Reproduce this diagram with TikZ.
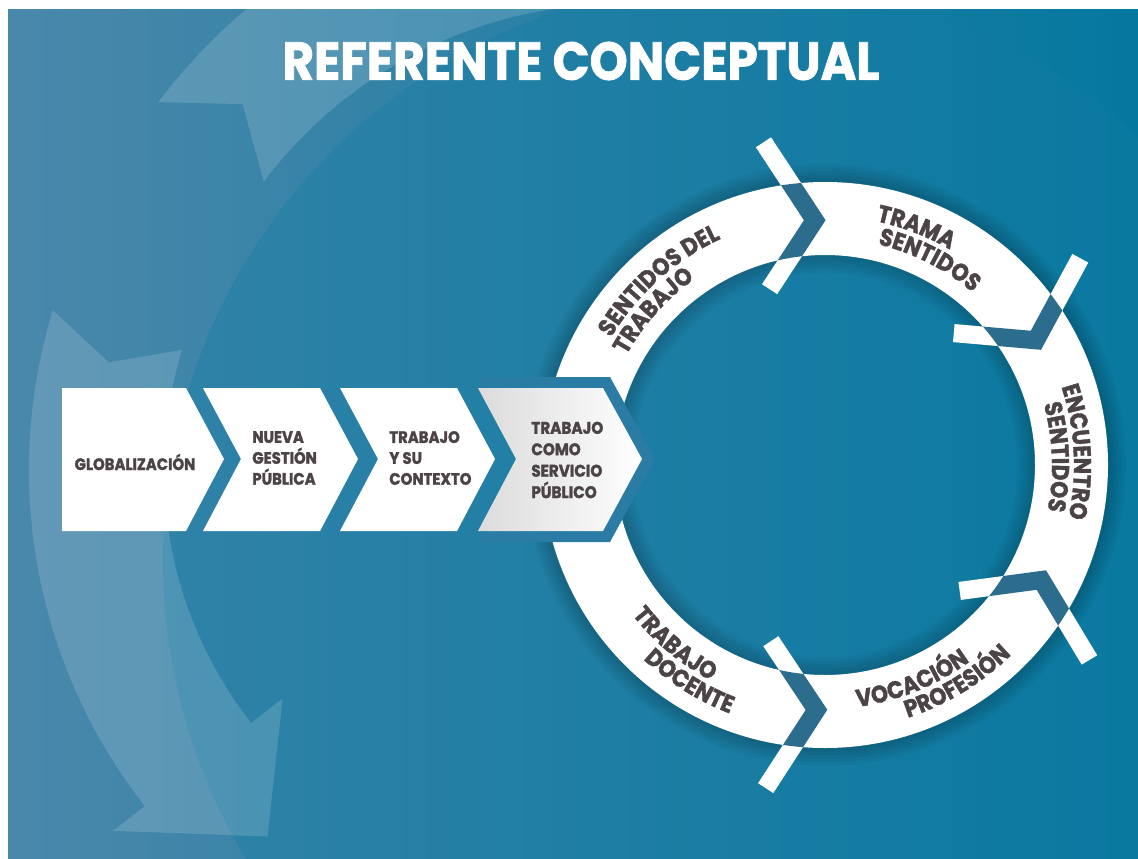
\documentclass[tikz,border=0pt]{standalone}
\usepackage{fontspec}
\usepackage{graphicx}
\setmainfont{Poppins}
\newfontfamily\dispfont{Poppins}[FakeStretch=0.9, BoldFeatures={FakeBold=1.6}]
\newfontfamily\ttlfont{Poppins}[FakeStretch=0.88, BoldFeatures={FakeBold=1.5}]
\usetikzlibrary{calc,decorations.text}
\definecolor{bgl}{HTML}{4A88AB}
\definecolor{bgr}{HTML}{05789F}
\definecolor{dcl}{HTML}{3082A7}
\definecolor{dcr}{HTML}{02779F}
\definecolor{txt}{HTML}{4B4345}
\definecolor{gapc}{HTML}{2C6C8D}
\definecolor{bord}{HTML}{2A7CA4}
\newdimen\pxu \pxu=0.02cm
\newcommand\rfont{\dispfont\bfseries\fontsize{13.8pt}{15pt}\selectfont\color{txt}}
\newcommand\bfnt{\dispfont\bfseries\fontsize{9.4pt}{11.9pt}\selectfont}
\begin{document}
\begin{tikzpicture}[x=0.02cm,y=-0.02cm,
  boxtext/.style={font=\bfnt, text=txt, align=left, inner sep=0pt},
  ghost/.style={fill=white, fill opacity=0.15},
  ringtxt/.style={decorate, decoration={text along path, text align=center, text={|\rfont|#1}}}]
\useasboundingbox (0,0) rectangle (1138,858);
\fill[white] (0,0) rectangle (1138,858);
\coordinate (C) at (825,465);
\coordinate (T) at (575,470);
\coordinate (TA) at (620,450);
% ---------- background ----------
\begin{scope}
  \clip (8,10) rectangle (1138,858);
  \shade[left color=bgl, right color=bgr] (8,10) rectangle (1138,858);
  \shade[left color=dcl, right color=dcr] (742,560) circle (579);
  % translucent circular arrows
  \fill[ghost] ($(TA)+(217:578)$) arc[start angle=217, end angle=272, radius=578]
     -- ($(TA)+(272:446)$) arc[start angle=272, end angle=217, radius=446]
     -- ($(TA)+(222.5:512)$) -- cycle;
  \fill[ghost] ($(T)+(197:546)$) arc[start angle=197, end angle=142, radius=546]
     -- ($(T)+(142:586)$) -- ($(T)+(130:478.5)$) -- ($(T)+(142:371)$)
     -- ($(T)+(142:411)$) arc[start angle=142, end angle=197, radius=411]
     -- ($(T)+(193:478.5)$) -- cycle;
  % soft shadow of the ring
  \foreach \w in {4,8,12,16,20} {
    \draw[black, opacity=0.04, line width=\w pt] (C) circle (283);
    \draw[black, opacity=0.035, line width=\w pt] (C) circle (210);
  }
\end{scope}
% ---------- ring ----------
\fill[white, even odd rule] (C) circle (283) (C) circle (210);
\foreach \a/\t [count=\i] in {267.6/357.6, 329.4/419.4, 28/-62, 92/2} {
  \coordinate (dv\i) at ($(C)+(\a:245)$);
  \coordinate (da\i) at ($(dv\i)+(\a:80)+(\t:-48)$);
  \coordinate (db\i) at ($(dv\i)+(\a:-67)+(\t:-48)$);
  \draw[white, line width=10.3pt] (da\i) -- (dv\i) -- (db\i);
}
\begin{scope}
  \clip ($(C)+(0:283)$) arc[start angle=0, end angle=360, radius=283]
     -- ($(C)+(0:210)$) arc[start angle=360, end angle=0, radius=210] -- cycle;
  \foreach \i in {1,...,4}
    \draw[gapc, line width=10.3pt] (da\i) -- (dv\i) -- (db\i);
\end{scope}
% ring texts
\path[ringtxt={SENTIDOS DEL}] ($(C)+(188:249)$) arc[start angle=188, end angle=268, radius=249];
\path[ringtxt={TRABAJO}] ($(C)+(182:227)$) arc[start angle=182, end angle=262, radius=227];
\path[ringtxt={TRAMA}] ($(C)+(251:249)$) arc[start angle=251, end angle=331, radius=249];
\path[ringtxt={SENTIDOS}] ($(C)+(257:227)$) arc[start angle=257, end angle=337, radius=227];
\path[ringtxt={ENCUENTRO}] ($(C)+(317:249)$) arc[start angle=317, end angle=397, radius=249];
\path[ringtxt={SENTIDOS}] ($(C)+(318:227)$) arc[start angle=318, end angle=398, radius=227];
\path[ringtxt={VOCACIÓN}] ($(C)+(108:244)$) arc[start angle=108, end angle=28, radius=244];
\path[ringtxt={PROFESIÓN}] ($(C)+(98.7:266)$) arc[start angle=98.7, end angle=18.7, radius=266];
\path[ringtxt={TRABAJO}] ($(C)+(170:244)$) arc[start angle=170, end angle=90, radius=244];
\path[ringtxt={DOCENTE}] ($(C)+(162:266)$) arc[start angle=162, end angle=82, radius=266];
% ---------- chevron boxes ----------
\fill[white] (62,388) -- (186,388) -- (224,459) -- (186,531) -- (62,531) -- cycle;
\fill[white] (203,388) -- (320,388) -- (358,459) -- (320,531) -- (203,531) -- (241,459) -- cycle;
\fill[white] (340,388) -- (457,388) -- (495,459) -- (457,531) -- (340,531) -- (378,459) -- cycle;
\fill[bord] (478,377) -- (610,377) -- (655,459) -- (610,542) -- (478,542) -- (516,459) -- cycle;
\shade[left color=black!14, right color=white] (478,388) -- (603,388) -- (642,459) -- (603,531) -- (478,531) -- (516,459) -- cycle;
\node[boxtext] (b1) at (135,462) {GLOBALIZACIÓN};
\node[boxtext, anchor=west] (b2) at (252,458) {NUEVA\\GESTIÓN\\PÚBLICA};
\node[boxtext, anchor=west] (b3) at (389,458) {TRABAJO\\Y SU\\CONTEXTO};
\node[boxtext, anchor=west, font=\dispfont\bfseries\fontsize{9.6pt}{12.2pt}\selectfont] (b4) at (531,460) {TRABAJO\\COMO\\SERVICIO\\PÚBLICO};
% ---------- title ----------
\node[font=\ttlfont\bfseries, text=white, inner sep=0pt] (title) at (581,61) {\resizebox{597\pxu}{38\pxu}{REFERENTE CONCEPTUAL}};
\end{tikzpicture}
\end{document}
